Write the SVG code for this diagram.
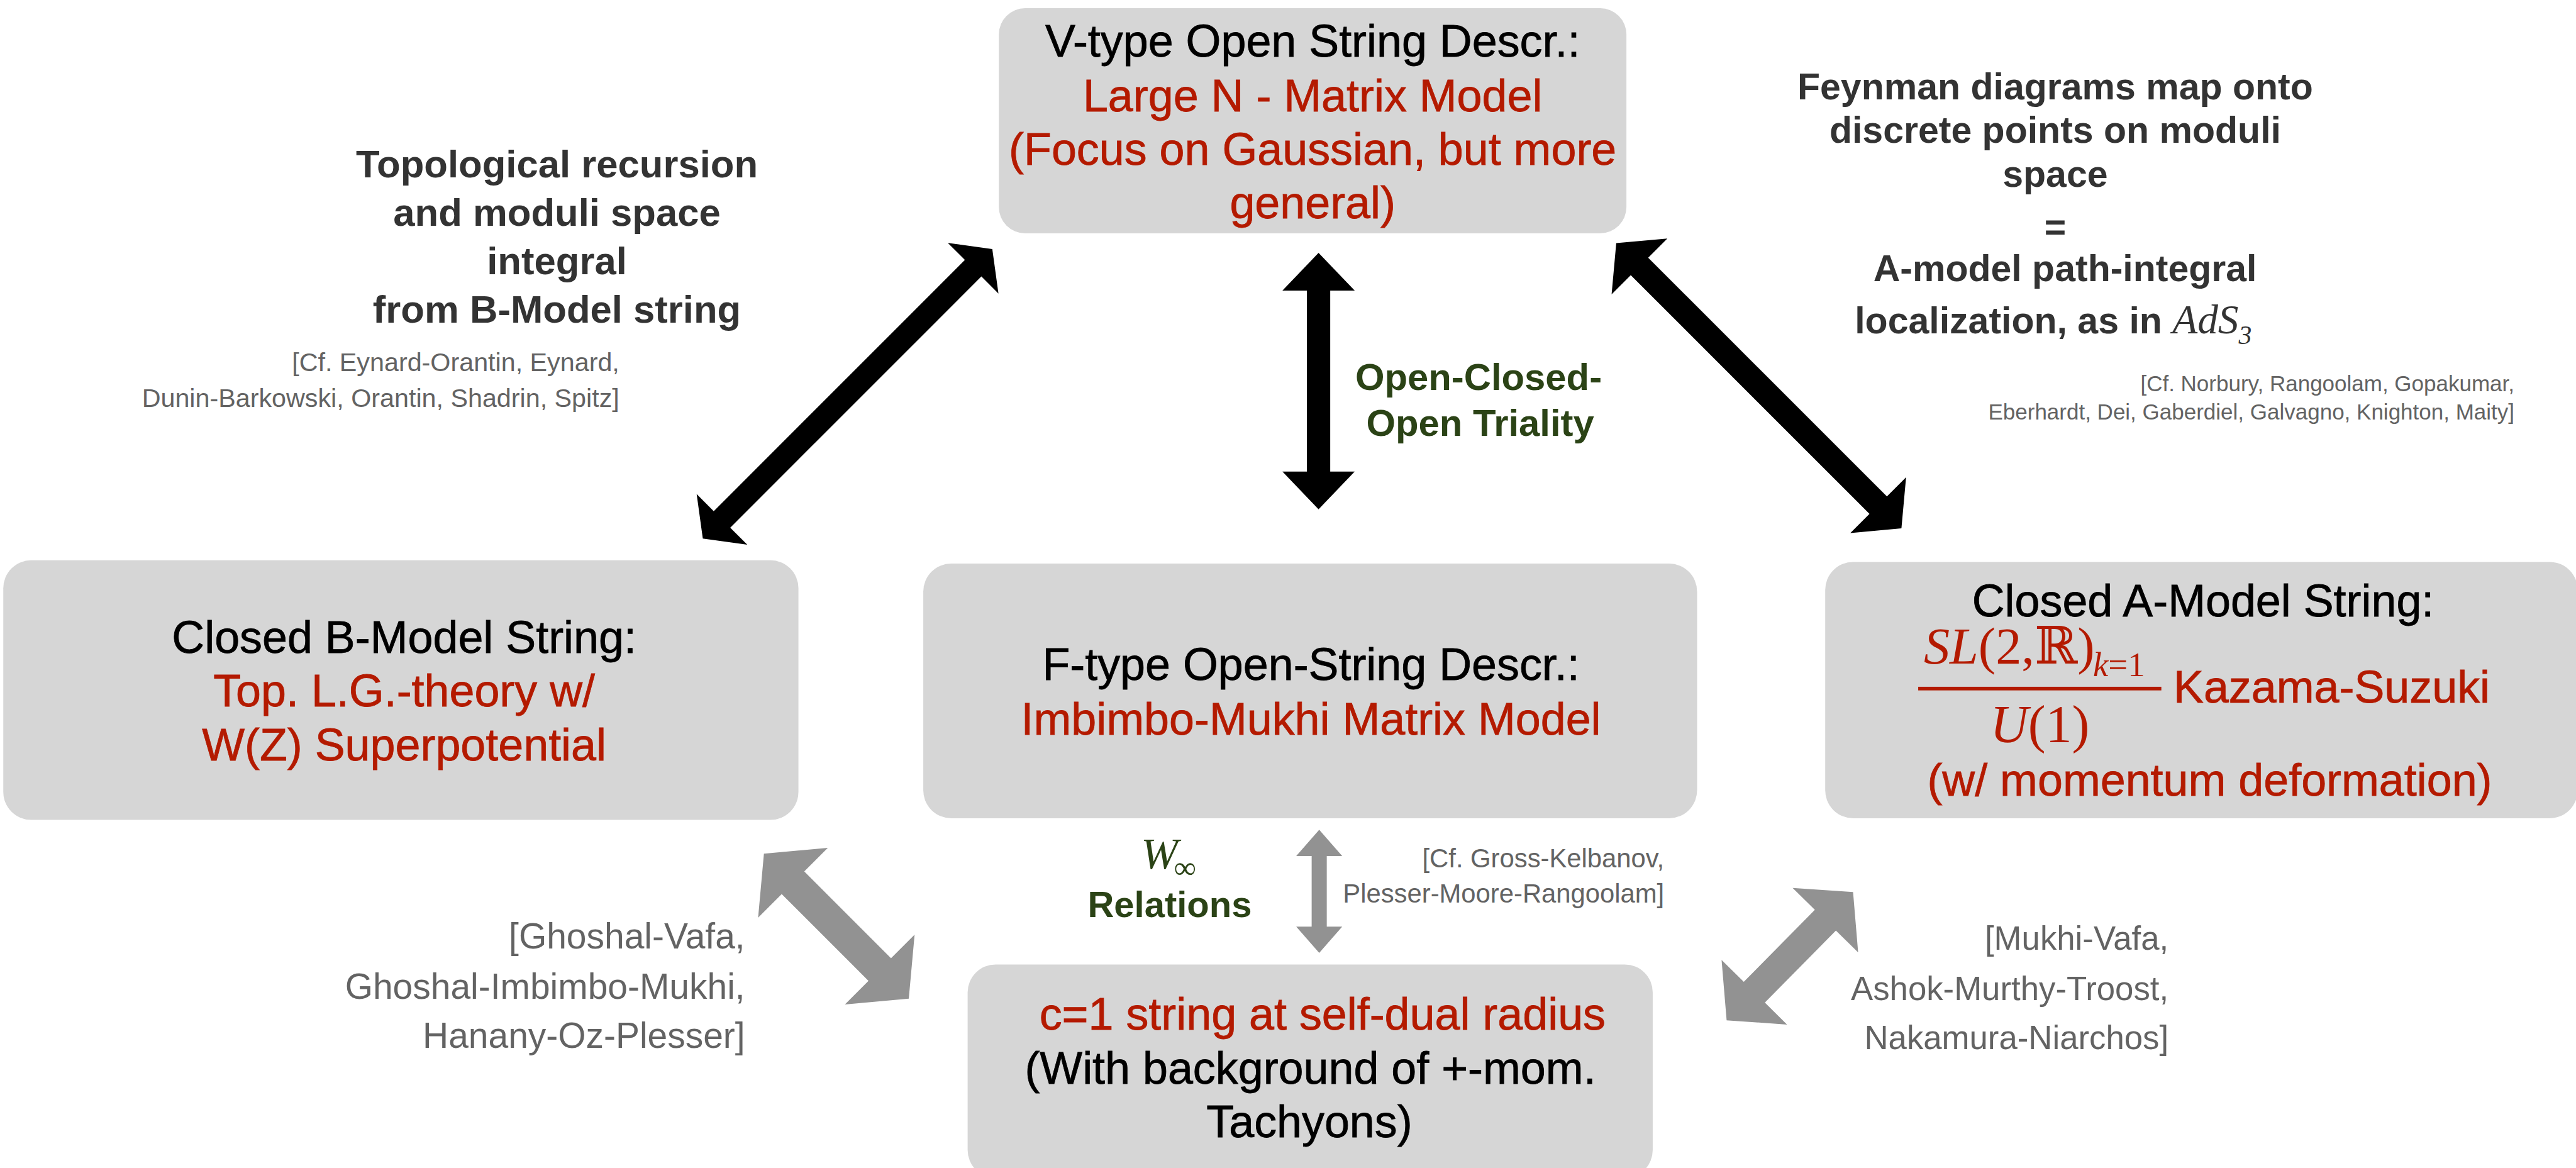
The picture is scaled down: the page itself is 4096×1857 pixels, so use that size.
<svg xmlns="http://www.w3.org/2000/svg" width="4096" height="1857" viewBox="0 0 4096 1857">
  <style>
    .box { fill: #d6d6d6; }
    .sans { font-family: "Liberation Sans", Arial, Helvetica, sans-serif; }
    .serif { font-family: "Liberation Serif", "DejaVu Serif", "Times New Roman", serif; }
    .head { font-size: 27.5px; fill: #000; stroke: #000; stroke-width: 0.3px; }
    .red { fill: #b41a00; }
    .head.red { stroke: #b41a00; }
    .note { font-weight: bold; fill: #333333; }
    .cite { fill: #636363; }
    .green { fill: #2b4316; }
    .arrow-black { fill: #000; }
    .arrow-gray { fill: #929292; }
    text { text-anchor: middle; }
    .end { text-anchor: end; }
    .start { text-anchor: start; }
  </style>
  <rect width="4096" height="1857" fill="#ffffff"/>
  <g transform="scale(2.612245)">
    <!-- V-type open string description -->
    <g id="node-vtype">
      <rect class="box" x="608" y="5" width="382" height="137" rx="16"/>
      <text class="sans head" x="799" y="34.6">V-type Open String Descr.:</text>
      <text class="sans head red" x="799" y="67.6">Large N - Matrix Model</text>
      <text class="sans head red" x="799" y="100.3">(Focus on Gaussian, but more</text>
      <text class="sans head red" x="799" y="133">general)</text>
    </g>
    <!-- Closed B-model string -->
    <g id="node-bmodel">
      <rect class="box" x="2" y="341" width="484" height="158" rx="17"/>
      <text class="sans head" x="246" y="397.4">Closed B-Model String:</text>
      <text class="sans head red" x="246" y="430">Top. L.G.-theory w/</text>
      <text class="sans head red" x="246" y="462.8">W(Z) Superpotential</text>
    </g>
    <!-- F-type open string description -->
    <g id="node-ftype">
      <rect class="box" x="562" y="343" width="471" height="155" rx="17"/>
      <text class="sans head" x="798" y="414">F-type Open-String Descr.:</text>
      <text class="sans head red" x="798" y="447">Imbimbo-Mukhi Matrix Model</text>
    </g>
    <!-- Closed A-model string -->
    <g id="node-amodel">
      <rect class="box" x="1111" y="342" width="458" height="156" rx="17"/>
      <text class="sans head" x="1341" y="375">Closed A-Model String:</text>
      <text class="serif red start" x="1171" y="404" font-size="31.5"><tspan font-style="italic">SL</tspan>(2,ℝ)</text>
      <text class="serif red start" x="1274" y="411.5" font-size="21"><tspan font-style="italic">k</tspan>=1</text>
      <rect class="red" x="1167.6" y="418" width="148" height="2.2"/>
      <text class="serif red" x="1241.6" y="451.6" font-size="32"><tspan font-style="italic">U</tspan>(1)</text>
      <text class="sans head red start" x="1323" y="427.6">Kazama-Suzuki</text>
      <text class="sans head red" x="1345" y="484.4">(w/ momentum deformation)</text>
    </g>
    <!-- c=1 string -->
    <g id="node-c1">
      <rect class="box" x="589" y="587" width="417" height="130" rx="17"/>
      <text class="sans head red" x="805" y="626.6">c=1 string at self-dual radius</text>
      <text class="sans head" x="797.6" y="659.5">(With background of +-mom.</text>
      <text class="sans head" x="797" y="692">Tachyons)</text>
    </g>

    <!-- Double-headed arrows, drawn along +x and rotated into place -->
    <g id="connectors">
      <polygon class="arrow-black" transform="translate(427.8,327.8) rotate(-45)" points="0,0 16.5,-21.8 16.5,-7.1 232.7,-7.1 232.7,-21.8 249.2,0 232.7,21.8 232.7,7.1 16.5,7.1 16.5,21.8"/>
      <polygon class="arrow-black" transform="translate(802.6,153.9) rotate(90)" points="0,0 23,-22 23,-7.1 133.1,-7.1 133.1,-22 156.1,0 133.1,22 133.1,7.1 23,7.1 23,22"/>
      <polygon class="arrow-black" transform="translate(983.8,148) rotate(45)" points="0,0 20,-24 20,-7.5 225.5,-7.5 225.5,-24 245.5,0 225.5,24 225.5,7.5 20,7.5 20,24"/>
      <polygon class="arrow-gray" transform="translate(465,519.6) rotate(45)" points="0,0 25,-30 25,-9.7 99.7,-9.7 99.7,-30 124.7,0 99.7,30 99.7,9.7 25,9.7 25,30"/>
      <polygon class="arrow-gray" transform="translate(803,505) rotate(90)" points="0,0 16,-14 16,-4.6 59,-4.6 59,-14 75,0 59,14 59,4.6 16,4.6 16,14"/>
      <polygon class="arrow-gray" transform="translate(1051,621) rotate(-45.4)" points="0,0 24,-28 24,-9 85.6,-9 85.6,-28 109.6,0 85.6,28 85.6,9 24,9 24,28"/>
    </g>

    <!-- Edge labels and references -->
    <g id="label-topological">
      <text class="sans note" font-size="23.6" x="339" y="108">Topological recursion</text>
      <text class="sans note" font-size="23.6" x="339" y="137.5">and moduli space</text>
      <text class="sans note" font-size="23.6" x="339" y="167">integral</text>
      <text class="sans note" font-size="23.6" x="339" y="196.5">from B-Model string</text>
      <text class="sans cite end" font-size="15.8" x="377" y="226">[Cf. Eynard-Orantin, Eynard,</text>
      <text class="sans cite end" font-size="15.8" x="377" y="247.5">Dunin-Barkowski, Orantin, Shadrin, Spitz]</text>
    </g>
    <g id="label-feynman">
      <text class="sans note" font-size="22.6" x="1251" y="60.4">Feynman diagrams map onto</text>
      <text class="sans note" font-size="22.6" x="1251" y="87">discrete points on moduli</text>
      <text class="sans note" font-size="22.6" x="1251" y="113.7">space</text>
      <text class="sans note" font-size="22.6" x="1251" y="146">=</text>
      <text class="sans note" font-size="22.6" x="1257" y="171">A-model path-integral</text>
      <text class="sans note start" font-size="22.6" x="1129" y="203">localization, as in <tspan class="serif" font-weight="normal" font-style="italic" font-size="25">AdS</tspan><tspan class="serif" font-weight="normal" font-style="italic" font-size="16" dy="6.5">3</tspan></text>
      <text class="sans cite end" font-size="13.4" x="1530.5" y="238">[Cf. Norbury, Rangoolam, Gopakumar,</text>
      <text class="sans cite end" font-size="13.4" x="1530.5" y="255.4">Eberhardt, Dei, Gaberdiel, Galvagno, Knighton, Maity]</text>
    </g>
    <g id="label-triality">
      <text class="sans green" font-weight="bold" font-size="22.9" x="900" y="237.4">Open-Closed-</text>
      <text class="sans green" font-weight="bold" font-size="22.9" x="901" y="265.3">Open Triality</text>
    </g>
    <g id="label-winfinity">
      <text class="serif green start" font-style="italic" font-size="27" x="694.5" y="528.7">W</text>
      <text class="serif green start" font-size="19" x="714.5" y="534.5">∞</text>
      <text class="sans green" font-weight="bold" font-size="22.2" x="712" y="558">Relations</text>
      <text class="sans cite end" font-size="16" x="1013" y="528">[Cf. Gross-Kelbanov,</text>
      <text class="sans cite end" font-size="16" x="1013" y="549.4">Plesser-Moore-Rangoolam]</text>
    </g>
    <g id="label-ghoshal">
      <text class="sans cite end" font-size="21.8" x="453.5" y="577.4">[Ghoshal-Vafa,</text>
      <text class="sans cite end" font-size="21.8" x="453.5" y="607.8">Ghoshal-Imbimbo-Mukhi,</text>
      <text class="sans cite end" font-size="21.8" x="453.5" y="637.6">Hanany-Oz-Plesser]</text>
    </g>
    <g id="label-mukhi">
      <text class="sans cite end" font-size="20.2" x="1320" y="578">[Mukhi-Vafa,</text>
      <text class="sans cite end" font-size="20.2" x="1320" y="608.5">Ashok-Murthy-Troost,</text>
      <text class="sans cite end" font-size="20.2" x="1320" y="638.5">Nakamura-Niarchos]</text>
    </g>
  </g>
</svg>
